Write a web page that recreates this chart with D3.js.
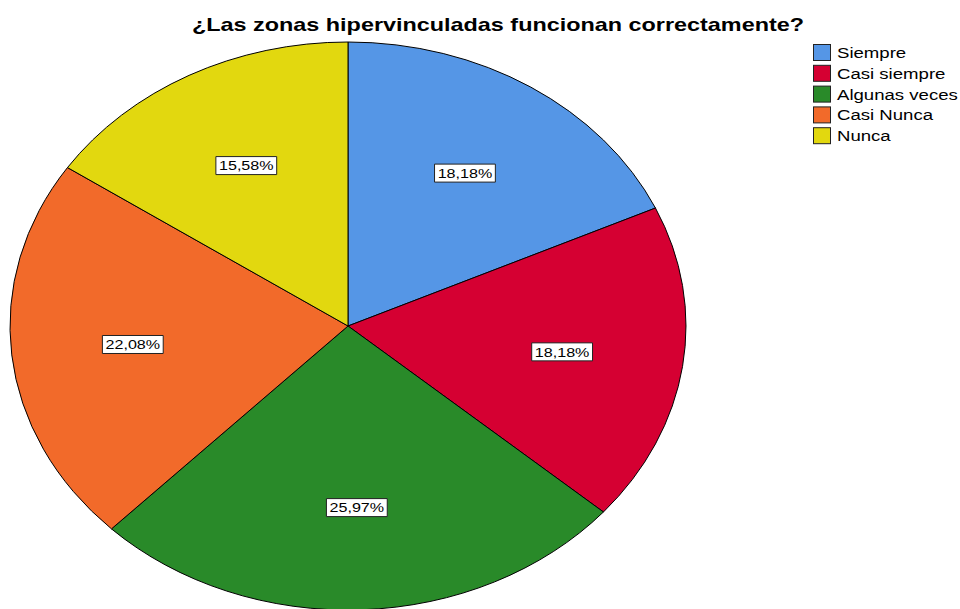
<!DOCTYPE html>
<html><head><meta charset="utf-8">
<script src="https://cdn.jsdelivr.net/npm/d3@7"></script>
<style>body{margin:0;background:#fff;}svg{display:block;}</style>
</head><body>
<svg id="c" width="960" height="609"></svg>
<script>
const categories = ["Siempre","Casi siempre","Algunas veces","Casi Nunca","Nunca"];
const values = [18.18,18.18,25.97,22.08,15.58];
const labels = ["18,18%","18,18%","25,97%","22,08%","15,58%"];
const colors = ["#5596E6","#D50032","#298A29","#F26A2A","#E2D80F"];
const title = "¿Las zonas hipervinculadas funcionan correctamente?";

const svg = d3.select("#c");
const FONT = "Liberation Sans, Arial, sans-serif";
const SX = 1.24; // horizontal stretch of the reference typography
const cx = 348, cy = 326, rx = 338, ry = 284;
const R = 100;
const pie = d3.pie().sort(null).value(d => d)(values);
const arc = d3.arc().innerRadius(0).outerRadius(R);
const g = svg.append("g").attr("transform", `translate(${cx},${cy})`);
const sg = g.append("g").attr("transform", `scale(${rx/R},${ry/R})`);
sg.selectAll("path").data(pie).join("path")
  .attr("d", arc).attr("fill", (d,i) => colors[i])
  .attr("stroke", "#000").attr("stroke-width", 1).attr("vector-effect","non-scaling-stroke");

const lab = d3.arc().innerRadius(R*0.64).outerRadius(R*0.64);
pie.forEach((d,i) => {
  const [x,y] = lab.centroid(d);
  const px = x*rx/R, py = y*ry/R;
  const lg = g.append("g").attr("transform", `translate(${px},${py}) scale(${SX},1)`);
  const t = lg.append("text").attr("x", 0).attr("y", 4.8)
    .attr("text-anchor","middle").attr("font-family", FONT)
    .attr("font-size", 13).attr("fill","#000").text(labels[i]);
  const bb = t.node().getBBox();
  lg.insert("rect", () => t.node())
    .attr("x", bb.x-2.5).attr("y", -9).attr("width", bb.width+5).attr("height", 18)
    .attr("fill","#fff").attr("stroke","#222").attr("stroke-width",1).attr("vector-effect","non-scaling-stroke");
});

svg.append("g").attr("transform", `translate(498,31) scale(1.3,1)`)
  .append("text").attr("x", 0).attr("y", 0).attr("text-anchor","middle")
  .attr("font-family", FONT).attr("font-weight","bold")
  .attr("font-size", 18).attr("fill","#000").text(title);

const leg = svg.append("g").attr("transform","translate(813,44)");
categories.forEach((c,i) => {
  const row = leg.append("g").attr("transform", `translate(0,${i*20.8})`);
  row.append("rect").attr("x",0.5).attr("y",0.5).attr("width",17).attr("height",16)
    .attr("fill", colors[i]).attr("stroke","#222").attr("stroke-width",1);
  row.append("g").attr("transform", `translate(24,14) scale(${SX},1)`)
    .append("text").attr("x", 0).attr("y", 0).attr("font-family", FONT)
    .attr("font-size", 15).attr("fill","#000").text(c);
});
</script>
</body></html>
